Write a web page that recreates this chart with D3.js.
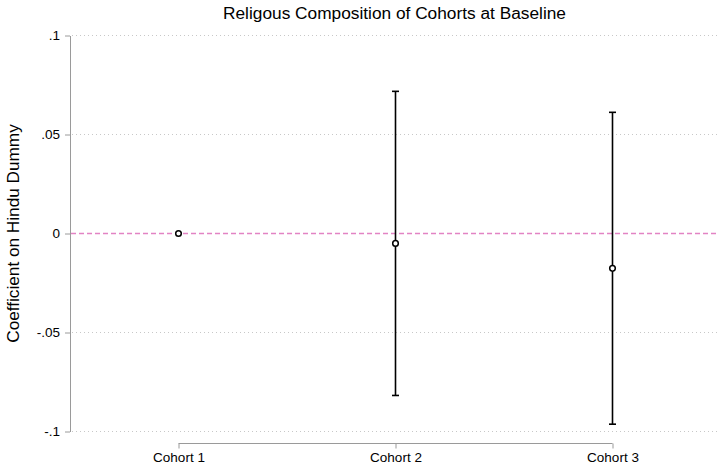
<!DOCTYPE html>
<html>
<head>
<meta charset="utf-8">
<script src="https://cdn.jsdelivr.net/npm/d3@7"></script>
<style>
  body { margin: 0; background: #fff; }
  svg { display: block; font-family: "Liberation Sans", Arial, Helvetica, sans-serif; }
</style>
</head>
<body>
<svg id="chart" width="718" height="472"></svg>
<script>
const categories = ["Cohort 1", "Cohort 2", "Cohort 3"];
const estimates = [0, -0.005, -0.0176];
const ciLower = [0, -0.0818, -0.0963];
const ciUpper = [0, 0.0718, 0.0612];
const yTicks = [-0.1, -0.05, 0, 0.05, 0.1];
const yTickLabels = ["-.1", "-.05", "0", ".05", ".1"];
const title = "Religous Composition of Cohorts at Baseline";
const yTitle = "Coefficient on Hindu Dummy";

(function () {
const svg = d3.select("#chart");
const W = 718, H = 472;
const pLeft = 70, pRight = 721, pTop = 35.5, pBottom = 431.5;

const x = d3.scaleLinear().domain([0.5, 3.5]).range([pLeft, pRight]);
const y = d3.scaleLinear().domain([-0.1, 0.1]).range([pBottom, pTop]);

// grid lines (dotted)
svg.append("g").selectAll("line")
  .data(yTicks.filter(d => d !== 0))
  .join("line")
  .attr("x1", pLeft + 2).attr("x2", W)
  .attr("y1", d => y(d)).attr("y2", d => y(d))
  .attr("stroke", "#c8c8c8").attr("stroke-width", 1)
  .attr("stroke-dasharray", "1,3");

// zero reference line
svg.append("line")
  .attr("x1", pLeft + 1).attr("x2", W)
  .attr("y1", y(0)).attr("y2", y(0))
  .attr("stroke", "#e283c4").attr("stroke-width", 1.4)
  .attr("stroke-dasharray", "5,3");

// y axis
const yAxis = d3.axisLeft(y).tickValues(yTicks)
  .tickFormat((d, i) => yTickLabels[i]).tickSize(5).tickPadding(5).tickSizeOuter(0);
const gy = svg.append("g").attr("transform", `translate(${pLeft},0)`).call(yAxis);
gy.select(".domain").attr("stroke", "#9a9a9a").attr("stroke-width", 1);
gy.selectAll(".tick line").attr("stroke", "#9a9a9a");
gy.selectAll(".tick text").attr("font-size", 13.5).attr("fill", "#000")
  .attr("font-family", "Liberation Sans, Arial, sans-serif");

// x axis
const xAxis = d3.axisBottom(x).tickValues([1, 2, 3])
  .tickFormat((d, i) => categories[i]).tickSize(5).tickPadding(4).tickSizeOuter(0);
const gx = svg.append("g").attr("transform", `translate(0,443.5)`).call(xAxis);
gx.select(".domain").attr("stroke", "#9a9a9a").attr("stroke-width", 1)
  .attr("d", `M${x(1)},0H${x(3)}`);
gx.selectAll(".tick line").attr("stroke", "#9a9a9a");
gx.selectAll(".tick text").attr("font-size", 13.5).attr("fill", "#000")
  .attr("font-family", "Liberation Sans, Arial, sans-serif");

// data
const data = categories.map((c, i) => ({ i: i + 1, est: estimates[i], lo: ciLower[i], hi: ciUpper[i] }));

const g = svg.append("g");
const ci = data.filter(d => d.hi !== d.lo);
g.selectAll("line.ci").data(ci).join("line").attr("class", "ci")
  .attr("x1", d => x(d.i)).attr("x2", d => x(d.i))
  .attr("y1", d => y(d.lo)).attr("y2", d => y(d.hi))
  .attr("stroke", "#000").attr("stroke-width", 1.6);
g.selectAll("line.capHi").data(ci).join("line").attr("class", "capHi")
  .attr("x1", d => x(d.i) - 3.5).attr("x2", d => x(d.i) + 3.5)
  .attr("y1", d => y(d.hi)).attr("y2", d => y(d.hi))
  .attr("stroke", "#000").attr("stroke-width", 1.6);
g.selectAll("line.capLo").data(ci).join("line").attr("class", "capLo")
  .attr("x1", d => x(d.i) - 3.5).attr("x2", d => x(d.i) + 3.5)
  .attr("y1", d => y(d.lo)).attr("y2", d => y(d.lo))
  .attr("stroke", "#000").attr("stroke-width", 1.6);
g.selectAll("circle").data(data).join("circle")
  .attr("cx", d => x(d.i)).attr("cy", d => y(d.est)).attr("r", 2.8)
  .attr("fill", "#fff").attr("stroke", "#000").attr("stroke-width", 1.5);

// titles
svg.append("text").attr("x", 394.5).attr("y", 19).attr("text-anchor", "middle")
  .attr("font-size", 17.3).attr("fill", "#000").text(title);
svg.append("text").attr("transform", `translate(19,${y(0)}) rotate(-90)`)
  .attr("text-anchor", "middle").attr("font-size", 17.2).attr("fill", "#000").text(yTitle);
})();
</script>
</body>
</html>
